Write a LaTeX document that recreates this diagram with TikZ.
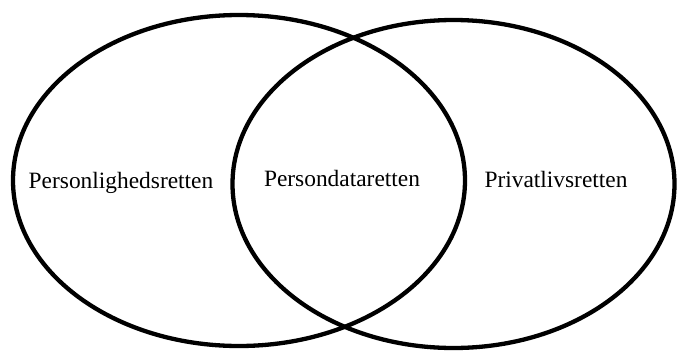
\documentclass[tikz,border=0pt]{standalone}
\usepackage{fontspec}
\setmainfont{Liberation Serif}
\usetikzlibrary{shapes.geometric}

\begin{document}
\begin{tikzpicture}[
  x=1pt, y=-1pt,
  field/.style={ellipse, draw=black, line width=4.3pt, inner sep=0pt, outer sep=0pt},
  label/.style={anchor=base, inner sep=0pt, font=\fontsize{23.4}{28}\selectfont},
]
  \useasboundingbox (0,0) rectangle (677,351);

  % Fields of law
  \node[field, minimum width=452pt, minimum height=331pt] (left) at (239, 180.5) {};
  \node[field, minimum width=442pt, minimum height=328pt] (right) at (453.5, 184) {};

  % Labels
  \node[label] (pers) at (121, 188) {Personlighedsretten};
  \node[label] (data) at (342, 186) {Persondataretten};
  \node[label] (priv) at (556, 187) {Privatlivsretten};

\end{tikzpicture}
\end{document}
